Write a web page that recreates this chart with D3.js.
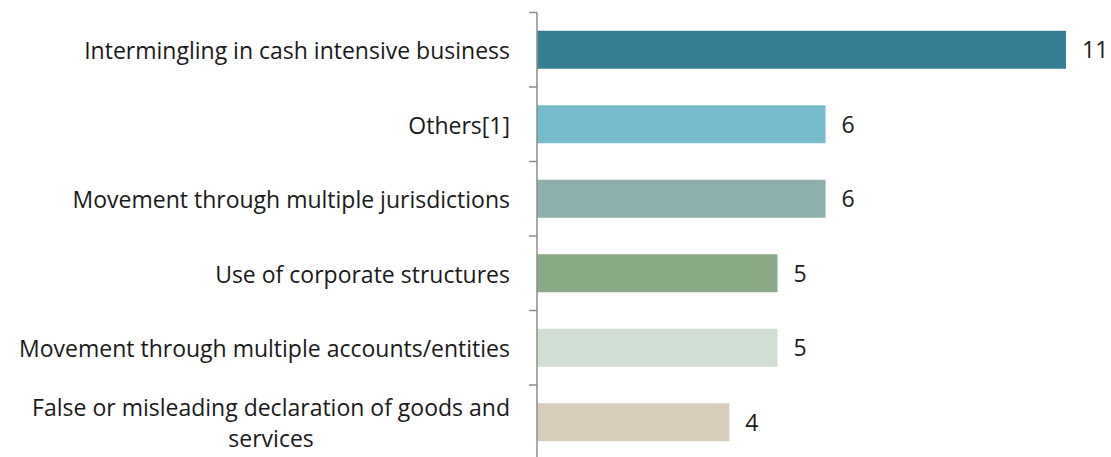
<!DOCTYPE html>
<html>
<head>
<meta charset="utf-8">
<script src="https://cdn.jsdelivr.net/npm/d3@7"></script>
<style>
  body { margin: 0; background: #fff; }
  text { font-family: 'Open Sans', sans-serif; fill: #1a1a1a; }
</style>
</head>
<body>
<div id="chart"></div>
<script>
// data
let categories = [
  'Intermingling in cash intensive business',
  'Others[1]',
  'Movement through multiple jurisdictions',
  'Use of corporate structures',
  'Movement through multiple accounts/entities',
  'False or misleading declaration of goods and services'
]
let values = [11, 6, 6, 5, 5, 4]
let colors = ['#347f91', '#77bccd', '#8eb0ad', '#88a886', '#d0ded3', '#d8cdba']

let width = 1111
let height = 457
let margin = { top: 12.5, left: 537, right: 0, bottom: 0 }
let fontSize = 23

let svg = d3.select('#chart')
  .append('svg')
  .attr('width', width)
  .attr('height', height)

let xPositionScale = d3.scaleLinear()
  .domain([0, 11])
  .range([margin.left, 1066])

let bandStep = 74.5
let yPositionScale = d3.scaleBand()
  .domain(categories)
  .range([margin.top, margin.top + bandStep * categories.length])
  .paddingInner(0.49)
  .paddingOuter(0.245)

// bars
svg.selectAll('.bar')
  .data(values)
  .enter()
  .append('rect')
  .attr('class', 'bar')
  .attr('x', xPositionScale(0))
  .attr('y', (d, i) => yPositionScale(categories[i]))
  .attr('width', d => xPositionScale(d) - xPositionScale(0))
  .attr('height', yPositionScale.bandwidth())
  .attr('fill', (d, i) => colors[i])

// value labels
svg.selectAll('.value')
  .data(values)
  .enter()
  .append('text')
  .attr('class', 'value')
  .attr('x', d => xPositionScale(d) + 16)
  .attr('y', (d, i) => yPositionScale(categories[i]) + yPositionScale.bandwidth() / 2)
  .attr('dy', '0.36em')
  .attr('font-size', fontSize)
  .text(d => d)

// axis line and ticks at category boundaries
let axisX = xPositionScale(0)
svg.append('line')
  .attr('x1', axisX).attr('x2', axisX)
  .attr('y1', margin.top).attr('y2', height)
  .attr('stroke', '#8c8c8c')
  .attr('stroke-width', 1.5)

let boundaries = d3.range(categories.length + 1).map(i => margin.top + i * bandStep)
svg.selectAll('.tick')
  .data(boundaries)
  .enter()
  .append('line')
  .attr('x1', axisX - 8).attr('x2', axisX)
  .attr('y1', d => d).attr('y2', d => d)
  .attr('stroke', '#8c8c8c')
  .attr('stroke-width', 1.5)

// category labels, wrapped if too long
let maxLabelWidth = 510
svg.selectAll('.label')
  .data(categories)
  .enter()
  .append('text')
  .attr('class', 'label')
  .attr('font-size', fontSize)
  .attr('text-anchor', 'middle')
  .each(function(d) {
    let t = d3.select(this)
    let cy = yPositionScale(d) + yPositionScale.bandwidth() / 2
    let words = d.split(' ')
    let lines = []
    let line = []
    words.forEach(w => {
      line.push(w)
      t.text(line.join(' '))
      if (t.node().getComputedTextLength() > maxLabelWidth && line.length > 1) {
        line.pop()
        lines.push(line.join(' '))
        line = [w]
      }
    })
    lines.push(line.join(' '))
    t.text(null)
    let lh = 31.5
    let widths = lines.map(l => { t.text(l); let w = t.node().getComputedTextLength(); t.text(null); return w })
    let maxW = d3.max(widths)
    let cx = axisX - 27 - maxW / 2
    lines.forEach((l, i) => {
      t.append('tspan')
        .attr('x', cx)
        .attr('y', cy + 1 + (i - (lines.length - 1) / 2) * lh)
        .attr('dy', '0.36em')
        .text(l)
    })
  })
</script>
</body>
</html>
